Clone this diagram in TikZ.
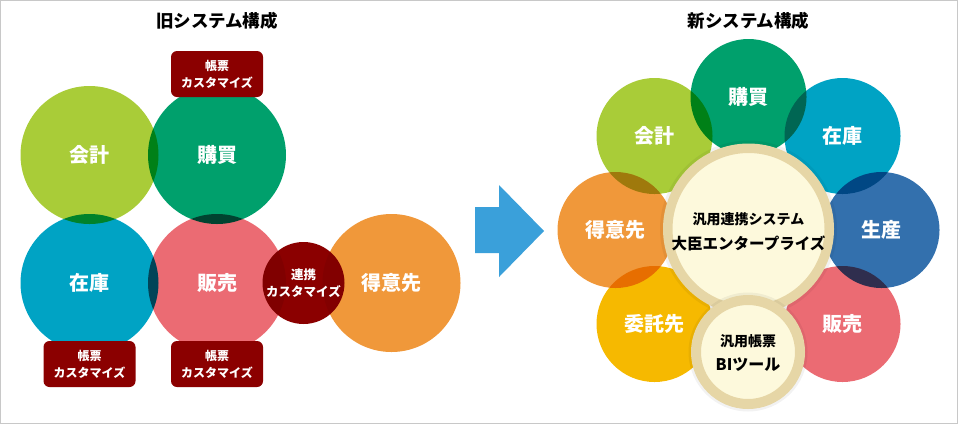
\documentclass[tikz,border=0pt]{standalone}
\usepackage{fontspec}
\setmainfont{Noto Sans CJK JP}
\definecolor{kaikei}{HTML}{A9CC38}
\definecolor{kobai}{HTML}{00A06C}
\definecolor{zaiko}{HTML}{00A3C4}
\definecolor{hanbai}{HTML}{EB6B73}
\definecolor{tokui}{HTML}{F0983A}
\definecolor{seisan}{HTML}{3370AD}
\definecolor{itaku}{HTML}{F6B900}
\definecolor{custom}{HTML}{8B0000}
\definecolor{ring}{HTML}{E6D6A6}
\definecolor{cream}{HTML}{FDF9DC}
\definecolor{arrowblue}{HTML}{3AA0DA}
\definecolor{framegray}{HTML}{C8C8C8}

\begin{document}
\begin{tikzpicture}[x=1pt, y=-1pt,
  bigdisc/.style={circle, minimum size=138pt, inner sep=0pt},
  smalldisc/.style={circle, minimum size=116pt, inner sep=0pt},
  lbl/.style={text=white, font=\bfseries\fontsize{20}{24}\selectfont},
  badge/.style={fill=custom, rounded corners=6pt, minimum width=92pt, minimum height=46pt,
    inner sep=0pt, text=white, align=center, font=\bfseries\fontsize{12}{17}\selectfont},
  title/.style={font=\bfseries\fontsize{17.5}{20}\selectfont},
  hub/.style={circle, draw=ring, fill=cream, inner sep=0pt},
  halo/.style={circle, fill=black, opacity=0.05, inner sep=0pt}]
  \useasboundingbox (0,0) rectangle (960,424);
  \draw[draw=framegray, line width=1pt] (0.5,0.5) rectangle (957.5,423);

  \node[title] (oldtitle) at (217,21) {旧システム構成};
  \node[title] (newtitle) at (748.5,21) {新システム構成};

  % the coloured discs overlap, so they are multiplied like inks
  \begin{scope}[blend group=multiply]
    \node[bigdisc, fill=kaikei] (old-kaikei) at (89.5,155) {};
    \node[bigdisc, fill=kobai] (old-kobai) at (217,155) {};
    \node[bigdisc, fill=zaiko] (old-zaiko) at (89.5,283) {};
    \node[bigdisc, fill=hanbai] (old-hanbai) at (217,283) {};
    \node[bigdisc, fill=tokui] (old-tokui) at (391.5,283) {};
    \node[circle, minimum size=82pt, inner sep=0pt, fill=custom] (old-renkei) at (303.5,283) {};

    \node[smalldisc, fill=kobai] (new-kobai) at (748.5,97) {};
    \node[smalldisc, fill=kaikei] (new-kaikei) at (654.5,136) {};
    \node[smalldisc, fill=zaiko] (new-zaiko) at (842.5,136) {};
    \node[smalldisc, fill=tokui] (new-tokui) at (615.5,230) {};
    \node[smalldisc, fill=seisan] (new-seisan) at (881.5,230) {};
    \node[smalldisc, fill=itaku] (new-itaku) at (654.5,324) {};
    \node[smalldisc, fill=hanbai] (new-hanbai) at (842.5,324) {};
  \end{scope}

  \node[lbl] (old-kaikei-t) at (old-kaikei) {会計};
  \node[lbl] (old-kobai-t) at (old-kobai) {購買};
  \node[lbl] (old-zaiko-t) at (old-zaiko) {在庫};
  \node[lbl] (old-hanbai-t) at (old-hanbai) {販売};
  \node[lbl] (old-tokui-t) at (old-tokui) {得意先};
  \node[text=white, align=center, font=\bfseries\fontsize{12.5}{17}\selectfont] (old-renkei-t)
    at (old-renkei) {連携\\カスタマイズ};

  \node[badge] (badge-kobai) at (217,74) {帳票\\カスタマイズ};
  \node[badge] (badge-zaiko) at (89.5,364) {帳票\\カスタマイズ};
  \node[badge] (badge-hanbai) at (217,364) {帳票\\カスタマイズ};

  \fill[arrowblue] (475,207) -- (499,207) -- (499,185) -- (544,231) -- (499,277)
    -- (499,253) -- (475,253) -- cycle;

  \node[lbl] (new-kobai-t) at (new-kobai) {購買};
  \node[lbl] (new-kaikei-t) at (new-kaikei) {会計};
  \node[lbl] (new-zaiko-t) at (new-zaiko) {在庫};
  \node[lbl] (new-tokui-t) at (new-tokui) {得意先};
  \node[lbl] (new-seisan-t) at (new-seisan) {生産};
  \node[lbl] (new-itaku-t) at (new-itaku) {委託先};
  \node[lbl] (new-hanbai-t) at (new-hanbai) {販売};

  \node[halo, minimum size=177pt] (hub-halo) at (748.5,229) {};
  \node[hub, line width=9.5pt, minimum size=161.5pt] (hub) at (748.5,229) {};
  \node[font=\bfseries\fontsize{14}{16}\selectfont] (hub-title) at (748.5,219) {汎用連携システム};
  \node[font=\bfseries\fontsize{15.5}{18}\selectfont] (hub-name) at (748.5,243) {大臣エンタープライズ};

  \node[halo, minimum size=119pt] (bi-halo) at (748,352) {};
  \node[hub, line width=10pt, minimum size=104pt] (bi) at (748,352) {};
  \node[font=\bfseries\fontsize{14}{16}\selectfont] (bi-title) at (748,341) {汎用帳票};
  \node[font=\bfseries\fontsize{16}{18}\selectfont] (bi-name) at (748,365) {BIツール};
\end{tikzpicture}
\end{document}
